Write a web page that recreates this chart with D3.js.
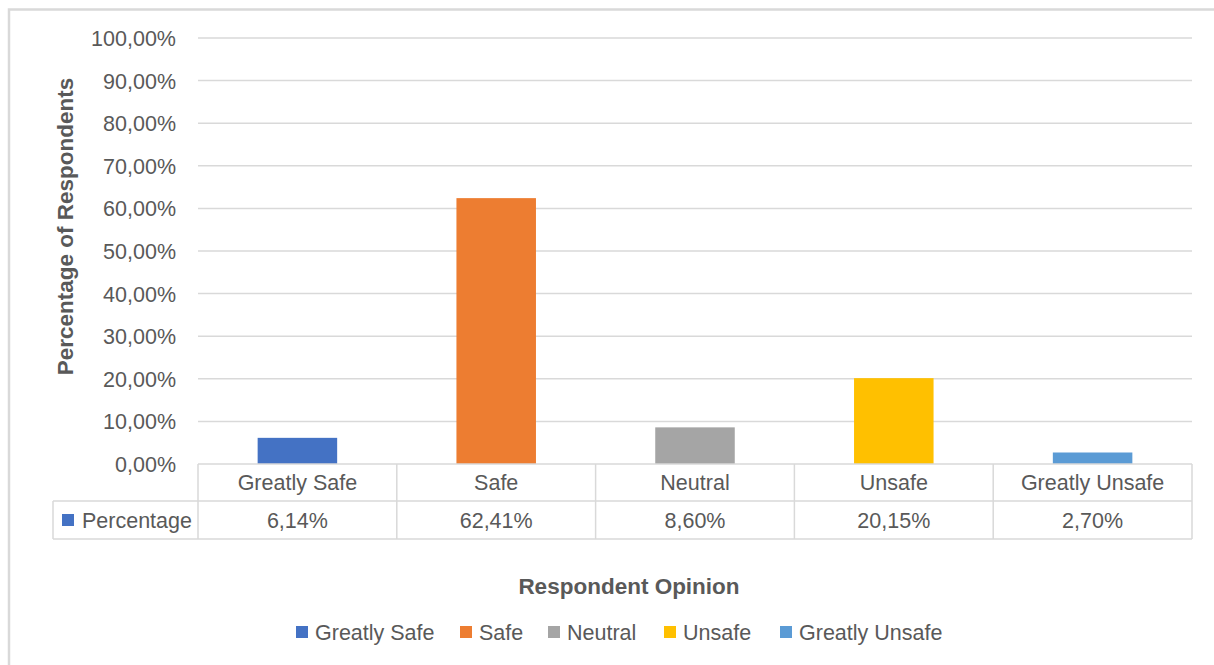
<!DOCTYPE html>
<html><head><meta charset="utf-8">
<script src="https://cdn.jsdelivr.net/npm/d3@7"></script>
<style>body{margin:0;background:#fff;} svg{display:block;}</style>
</head><body>
<svg id="c" width="1214" height="665"></svg>
<script>
const categories = ["Greatly Safe","Safe","Neutral","Unsafe","Greatly Unsafe"];
const values = [6.14, 62.41, 8.60, 20.15, 2.70];
const colors = ["#4472C4","#ED7D31","#A5A5A5","#FFC000","#5B9BD5"];
const yTicks = [0,10,20,30,40,50,60,70,80,90,100];
const seriesName = "Percentage";
const yTitle = "Percentage of Respondents";
const xTitle = "Respondent Opinion";

const FONT = "'Liberation Sans', Arial, sans-serif";
const FS = 21.5, FSB = 22.5;
const TXT = "#595959", GRID = "#d9d9d9";
const loc = d3.formatLocale({decimal:",", thousands:".", grouping:[3], currency:["",""]});
const fmt = v => loc.format(".2f")(v) + "%";

const svg = d3.select("#c");
svg.append("path").attr("d","M9,665 V9.5 H1214").attr("fill","none").attr("stroke",GRID).attr("stroke-width",2.5);

const x0 = 198, x1 = 1192, yTop = 38, yBot = 464;
const x = d3.scaleBand().domain(categories).range([x0,x1]).paddingInner(0).paddingOuter(0);
const y = d3.scaleLinear().domain([0,100]).range([yBot,yTop]);

svg.append("g").selectAll("line").data(yTicks.filter(t=>t>0)).join("line")
  .attr("x1",x0).attr("x2",x1).attr("y1",d=>y(d)).attr("y2",d=>y(d))
  .attr("stroke",GRID).attr("stroke-width",1.5);

const yAxis = d3.axisLeft(y).tickValues(yTicks).tickFormat(fmt).tickSize(0).tickPadding(0);
const gy = svg.append("g").attr("transform","translate(176,0)").call(yAxis);
gy.select(".domain").remove();
gy.selectAll("text").attr("font-family",FONT).attr("font-size",FS).attr("fill",TXT).attr("dy","0.35em");

const bw = x.bandwidth()*0.4;
svg.append("g").selectAll("rect").data(values).join("rect")
  .attr("x",(d,i)=>x(categories[i])+x.bandwidth()/2-bw/2)
  .attr("width",bw)
  .attr("y",d=>y(d)).attr("height",d=>yBot-y(d))
  .attr("fill",(d,i)=>colors[i]);

const r1 = yBot, r2 = 501, r3 = 539, tl = 53;
const tg = svg.append("g").attr("stroke",GRID).attr("stroke-width",1.5).attr("fill","none");
tg.append("line").attr("x1",x0).attr("x2",x1).attr("y1",r1).attr("y2",r1);
tg.append("line").attr("x1",tl).attr("x2",x1).attr("y1",r2).attr("y2",r2);
tg.append("line").attr("x1",tl).attr("x2",x1).attr("y1",r3).attr("y2",r3);
tg.append("line").attr("x1",tl).attr("x2",tl).attr("y1",r2).attr("y2",r3);
const bounds = categories.map(c=>x(c)).concat([x1]);
tg.selectAll("line.v").data(bounds).join("line").attr("class","v")
  .attr("x1",d=>d).attr("x2",d=>d).attr("y1",r1).attr("y2",r3);

const tt = svg.append("g").attr("font-family",FONT).attr("font-size",FS).attr("fill",TXT).attr("text-anchor","middle");
tt.selectAll("text.c").data(categories).join("text").attr("class","c")
  .attr("x",d=>x(d)+x.bandwidth()/2).attr("y",(r1+r2)/2).attr("dy","0.35em").text(d=>d);
tt.selectAll("text.v").data(values).join("text").attr("class","v")
  .attr("x",(d,i)=>x(categories[i])+x.bandwidth()/2).attr("y",(r2+r3)/2).attr("dy","0.35em").text(d=>fmt(d));
svg.append("rect").attr("x",62).attr("y",(r2+r3)/2-6).attr("width",12).attr("height",12).attr("fill",colors[0]);
svg.append("text").attr("x",82).attr("y",(r2+r3)/2).attr("dy","0.35em").attr("font-family",FONT).attr("font-size",FS).attr("fill",TXT).text(seriesName);

svg.append("text").attr("transform",`translate(73,${(75+378)/2}) rotate(-90)`).attr("text-anchor","middle")
  .attr("font-family",FONT).attr("font-size",FSB).attr("font-weight","bold").attr("fill",TXT).text(yTitle);
svg.append("text").attr("x",629).attr("y",586).attr("dy","0.35em").attr("text-anchor","middle")
  .attr("font-family",FONT).attr("font-size",FSB).attr("font-weight","bold").attr("fill",TXT).text(xTitle);

const legX = [296,460,548,664,780];
const lg = svg.append("g").selectAll("g").data(categories).join("g")
  .attr("transform",(d,i)=>`translate(${legX[i]},632)`);
lg.append("rect").attr("x",0).attr("y",-6).attr("width",12).attr("height",12).attr("fill",(d,i)=>colors[i]);
lg.append("text").attr("x",19).attr("dy","0.35em").attr("font-family",FONT).attr("font-size",FS).attr("fill",TXT).text(d=>d);
</script>
</body></html>
